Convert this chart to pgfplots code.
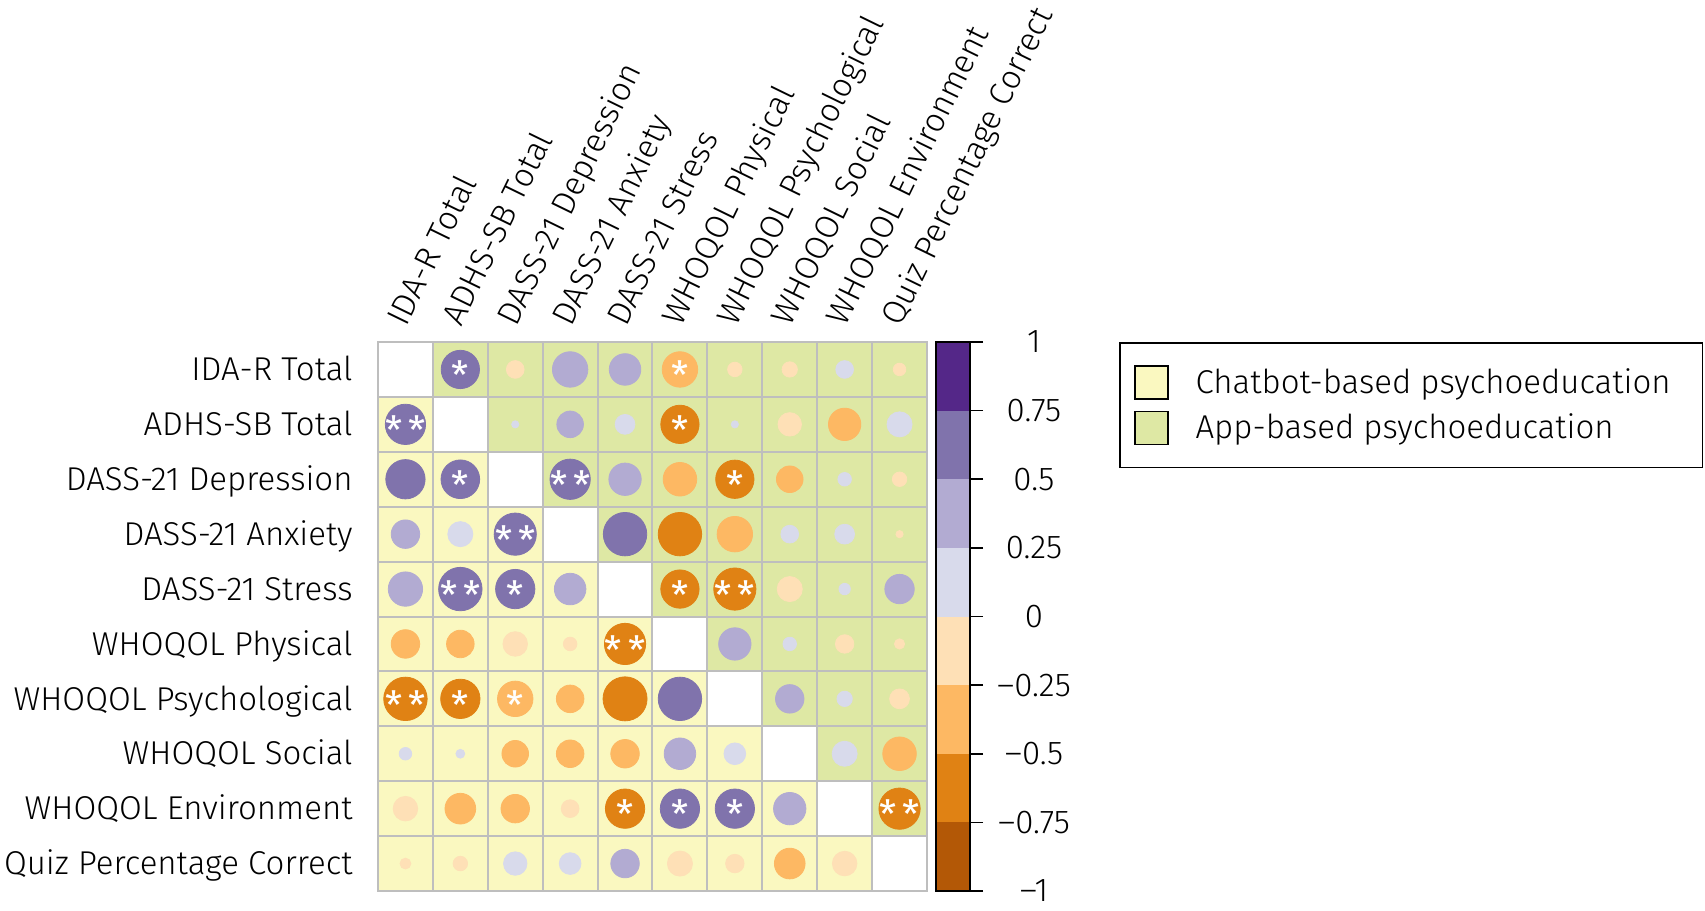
\documentclass[border=0pt]{standalone}
\usepackage{fontspec}
\setmainfont{Fira Sans Light}
\newfontfamily\starfont{Fira Sans}
\usepackage{pgfplots}
\usepackage{pgfplotstable}
\pgfplotsset{compat=1.18}

\definecolor{puA}{HTML}{B35806}
\definecolor{puB}{HTML}{E08214}
\definecolor{puC}{HTML}{FDB863}
\definecolor{puD}{HTML}{FEE0B6}
\definecolor{puE}{HTML}{D8DAEB}
\definecolor{puF}{HTML}{B2ABD2}
\definecolor{puG}{HTML}{8073AC}
\definecolor{puH}{HTML}{542788}
\definecolor{chatbot}{HTML}{FAF8C0}
\definecolor{app}{HTML}{DEE8A4}
\definecolor{gridgray}{HTML}{BEBEBE}

\newcommand\mysize{\fontsize{16.5pt}{19pt}\selectfont}
\newcommand\starsize{\starfont\fontsize{19.5pt}{20pt}\selectfont}

% x = column, y = 11 - row, r = correlation, c = colour class, s = number of stars
\pgfplotstableread{
x y r c s
2 10 0.56 G 1
3 10 -0.12 D 0
4 10 0.48 F 0
5 10 0.38 F 0
6 10 -0.48 C 1
7 10 -0.08 D 0
8 10 -0.09 D 0
9 10 0.12 E 0
10 10 -0.06 D 0
1 9 0.62 G 2
3 9 0.02 E 0
4 9 0.27 F 0
5 9 0.15 E 0
6 9 -0.56 B 1
7 9 0.02 E 0
8 9 -0.21 D 0
9 9 -0.40 C 0
10 9 0.24 E 0
1 8 0.59 G 0
2 8 0.57 G 1
4 8 0.62 G 2
5 8 0.40 F 0
6 8 -0.43 C 0
7 8 -0.56 B 1
8 8 -0.27 C 0
9 8 0.07 E 0
10 8 -0.08 D 0
1 7 0.31 F 0
2 7 0.24 E 0
3 7 0.68 G 2
5 7 0.72 G 0
6 7 -0.72 B 0
7 7 -0.48 C 0
8 7 0.12 E 0
9 7 0.15 E 0
10 7 -0.02 D 0
1 6 0.45 F 0
2 6 0.72 G 2
3 6 0.59 G 1
4 6 0.38 F 0
6 6 -0.56 B 1
7 6 -0.68 B 2
8 6 -0.24 D 0
9 6 0.05 E 0
10 6 0.33 F 0
1 5 -0.31 C 0
2 5 -0.29 C 0
3 5 -0.23 D 0
4 5 -0.07 D 0
5 5 -0.65 B 2
7 5 0.40 F 0
8 5 0.07 E 0
9 5 -0.13 D 0
10 5 -0.04 D 0
1 4 -0.72 B 2
2 4 -0.59 B 1
3 4 -0.48 C 1
4 4 -0.29 C 0
5 4 -0.74 B 0
6 4 0.72 G 0
8 4 0.31 F 0
9 4 0.09 E 0
10 4 -0.15 D 0
1 3 0.06 E 0
2 3 0.03 E 0
3 3 -0.27 C 0
4 3 -0.29 C 0
5 3 -0.31 C 0
6 3 0.38 F 0
7 3 0.18 E 0
9 3 0.24 E 0
10 3 -0.43 C 0
1 2 -0.23 D 0
2 2 -0.36 C 0
3 2 -0.31 C 0
4 2 -0.12 D 0
5 2 -0.59 B 1
6 2 0.59 G 1
7 2 0.59 G 1
8 2 0.40 F 0
10 2 -0.65 B 2
1 1 -0.045 D 0
2 1 -0.08 D 0
3 1 0.21 E 0
4 1 0.18 E 0
5 1 0.31 F 0
6 1 -0.24 D 0
7 1 -0.13 D 0
8 1 -0.36 C 0
9 1 -0.23 D 0
}\corr

\begin{document}
\begin{tikzpicture}[font=\mysize]
\path[use as bounding box] (0pt,0pt) rectangle (852.5pt,-455.5pt);

\begin{axis}[
    at={(189pt,-171pt)}, anchor=north west,
    width=274.5pt, height=274.5pt, scale only axis,
    xmin=0.5, xmax=10.5, ymin=0.5, ymax=10.5,
    xtick={1,2,3,4,5,6,7,8,9,10},
    ytick={1,2,3,4,5,6,7,8,9,10},
    xticklabels={IDA-R Total, ADHS-SB Total, DASS-21 Depression, DASS-21 Anxiety, DASS-21 Stress, WHOQOL Physical, WHOQOL Psychological, WHOQOL Social, WHOQOL Environment, Quiz Percentage Correct},
    yticklabels={Quiz Percentage Correct, WHOQOL Environment, WHOQOL Social, WHOQOL Psychological, WHOQOL Physical, DASS-21 Stress, DASS-21 Anxiety, DASS-21 Depression, ADHS-SB Total, IDA-R Total},
    xticklabel pos=upper,
    major tick length=0pt, minor tick length=0pt,
    minor xtick={0.5,1.5,2.5,3.5,4.5,5.5,6.5,7.5,8.5,9.5,10.5},
    minor ytick={0.5,1.5,2.5,3.5,4.5,5.5,6.5,7.5,8.5,9.5,10.5},
    xminorgrids, yminorgrids,
    minor grid style={draw=gridgray, line width=1pt},
    axis line style={draw=gridgray, line width=1pt},
    axis on top,
    tick label style={font=\mysize},
    xticklabel style={xshift=0.5pt, yshift=7pt, rotate=64, anchor=base west, inner sep=0pt},
    yticklabel style={anchor=base east, inner sep=0pt, xshift=-12.5pt, yshift=-5.6pt},
    legend style={at={(1.3497,1)}, anchor=north west, draw=black, line width=0.8pt,
        font=\mysize, inner xsep=7pt, inner ysep=11pt, row sep=5.5pt,
        cells={anchor=west}, nodes={inner sep=0pt},
        /tikz/every odd column/.append style={column sep=13.5pt}},
    legend image code/.code={\draw[#1, draw=black, line width=0.9pt] (0pt,-8.25pt) rectangle (16.5pt,8.25pt);},
]
\addplot[fill=chatbot, draw=none] coordinates {
    (0.5,9.5) (1.5,9.5) (1.5,8.5) (2.5,8.5) (2.5,7.5) (3.5,7.5) (3.5,6.5) (4.5,6.5)
    (4.5,5.5) (5.5,5.5) (5.5,4.5) (6.5,4.5) (6.5,3.5) (7.5,3.5) (7.5,2.5) (8.5,2.5)
    (8.5,1.5) (9.5,1.5) (9.5,0.5) (0.5,0.5)} -- cycle;
\addlegendentry{Chatbot-based psychoeducation\hspace*{9pt}}
\addplot[fill=app, draw=none] coordinates {
    (1.5,10.5) (10.5,10.5) (10.5,1.5) (9.5,1.5) (9.5,2.5) (8.5,2.5) (8.5,3.5) (7.5,3.5)
    (7.5,4.5) (6.5,4.5) (6.5,5.5) (5.5,5.5) (5.5,6.5) (4.5,6.5) (4.5,7.5) (3.5,7.5)
    (3.5,8.5) (2.5,8.5) (2.5,9.5) (1.5,9.5)} -- cycle;
\addlegendentry{App-based psychoeducation}

% circles: colour by class, area by |r|
\addplot[
    scatter, only marks, mark=*, forget plot,
    point meta=explicit symbolic,
    scatter/classes={
        A={fill=puA, draw=puA}, B={fill=puB, draw=puB},
        C={fill=puC, draw=puC}, D={fill=puD, draw=puD},
        E={fill=puE, draw=puE}, F={fill=puF, draw=puF},
        G={fill=puG, draw=puG}, H={fill=puH, draw=puH}},
    visualization depends on={12.8*sqrt(abs(\thisrow{r})) \as \rad},
    scatter/@pre marker code/.append style={/tikz/mark size=\rad},
] table[x=x, y=y, meta=c] {\corr};

% significance stars
\addplot[only marks, mark=none, forget plot,
    restrict expr to domain={\thisrow{s}}{1:1},
    nodes near coords={\smash{\raisebox{-0.52em}{*}}},
    nodes near coords align={center},
    every node near coord/.append style={anchor=center, inner sep=0pt, text=white, font=\starsize},
] table[x=x, y=y] {\corr};
\addplot[only marks, mark=none, forget plot,
    restrict expr to domain={\thisrow{s}}{2:2},
    nodes near coords={\smash{\raisebox{-0.52em}{*\hspace{3pt}*}}},
    nodes near coords align={center},
    every node near coord/.append style={anchor=center, inner sep=0pt, text=white, font=\starsize},
] table[x=x, y=y] {\corr};
\end{axis}

\begin{axis}[
    at={(468pt,-171pt)}, anchor=north west,
    width=17pt, height=274.5pt, scale only axis,
    xmin=0, xmax=1, ymin=-1, ymax=1,
    xtick=\empty,
    ytick={-1,-0.75,-0.5,-0.25,0,0.25,0.5,0.75,1},
    yticklabels={\textendash1, \textendash0.75, \textendash0.5, \textendash0.25, 0, 0.25, 0.5, 0.75, 1},
    ytick pos=right, yticklabel pos=right,
    tick align=outside, major tick length=6.5pt,
    every tick/.style={black, line width=0.8pt},
    axis line style={black, line width=0.8pt},
    axis on top,
    yticklabel style={anchor=center, inner sep=0pt, xshift=25.5pt, font=\mysize},
]
\addplot[fill=puA, draw=none] coordinates {(0,-1) (1,-1) (1,-0.75) (0,-0.75)} -- cycle;
\addplot[fill=puB, draw=none] coordinates {(0,-0.75) (1,-0.75) (1,-0.5) (0,-0.5)} -- cycle;
\addplot[fill=puC, draw=none] coordinates {(0,-0.5) (1,-0.5) (1,-0.25) (0,-0.25)} -- cycle;
\addplot[fill=puD, draw=none] coordinates {(0,-0.25) (1,-0.25) (1,0) (0,0)} -- cycle;
\addplot[fill=puE, draw=none] coordinates {(0,0) (1,0) (1,0.25) (0,0.25)} -- cycle;
\addplot[fill=puF, draw=none] coordinates {(0,0.25) (1,0.25) (1,0.5) (0,0.5)} -- cycle;
\addplot[fill=puG, draw=none] coordinates {(0,0.5) (1,0.5) (1,0.75) (0,0.75)} -- cycle;
\addplot[fill=puH, draw=none] coordinates {(0,0.75) (1,0.75) (1,1) (0,1)} -- cycle;
\end{axis}
\end{tikzpicture}
\end{document}
